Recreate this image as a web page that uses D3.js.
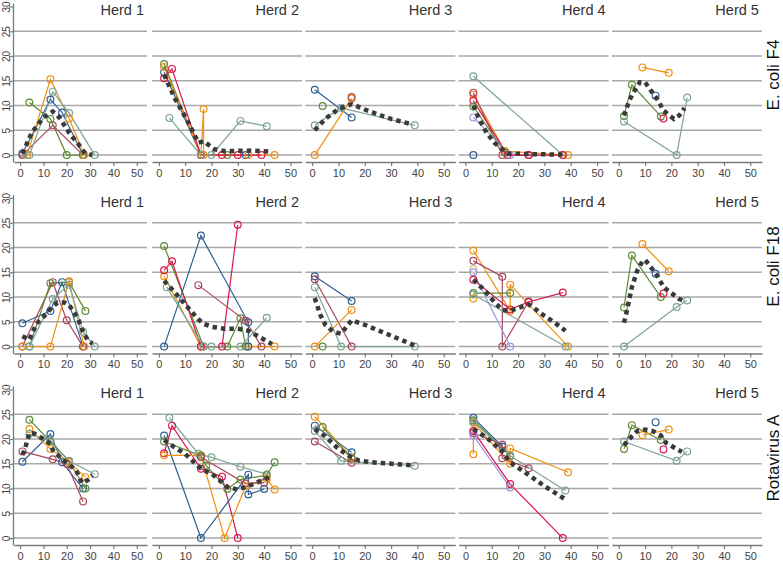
<!DOCTYPE html>
<html>
<head>
<meta charset="utf-8">
<script src="https://d3js.org/d3.v7.min.js"></script>
<style>
  body { margin: 0; padding: 0; background: #fff; }
  svg { display: block; font-family: "Liberation Sans", Arial, sans-serif; }
</style>
</head>
<body>
<script>
// panel labels and ticks
var herds = ["Herd 1", "Herd 2", "Herd 3", "Herd 4", "Herd 5"],
  pathogens = ["E. coli F4", "E. coli F18", "Rotavirus A"],
  xTicks = [0, 10, 20, 30, 40, 50],
  yTicks = [0, 5, 10, 15, 20, 25, 30],
  gridTicks = [0, 5, 10, 15, 20, 25];

// animal index -> colour slot (0 navy, 1 maroon, 2 green, 3 orange, 4 teal, 5 cranberry, 6 lavender, 7 khaki)
// each entry: [herd, animal, [[day, value], ...]]
var f4Animals = [
  [1, 0, [[1, 0.3], [13, 11.2], [18, 8.6], [27, 0]]],
  [1, 1, [[1, 0], [14, 6], [27, 0]]],
  [1, 2, [[4, 10.6], [13, 7.3], [20, 0], [27, 0]]],
  [1, 3, [[3, 0], [13, 15.3], [21, 7.4], [27.5, 0]]],
  [1, 4, [[4, 0], [14, 12.8], [21, 8.5], [32, 0]]],
  [2, 0, [[2, 16.7], [16, 0], [33, 0]]],
  [2, 2, [[2, 18.4], [16, 0], [26, 0]]],
  [2, 3, [[2, 17.8], [16, 0], [17, 9.3], [17, 0], [34, 0], [44, 0]]],
  [2, 5, [[2, 15.5], [5, 17.4], [16, 0], [24, 0], [30, 0], [39, 0]]],
  [2, 4, [[4, 7.5], [16, 0], [20, 0], [31, 6.9], [41, 5.8]]],
  [3, 0, [[1, 13.2], [15, 7.6]]],
  [3, 2, [[4, 9.9]]],
  [3, 4, [[1, 6], [11, 9.5], [39, 6]]],
  [3, 3, [[1, 0], [15, 11.4]]],
  [3, 1, [[15, 11.7]]],
  [4, 4, [[3, 15.9], [37, 0]]],
  [4, 0, [[3, 0]]],
  [4, 3, [[3, 12.2], [15, 0.8], [39, 0]]],
  [4, 1, [[3, 12.6], [14, 0], [24, 0]]],
  [4, 5, [[3, 11], [16, 0], [24, 0], [37, 0]]],
  [4, 2, [[3, 9.8], [15, 0.5]]],
  [4, 6, [[3, 7.6], [17, 0]]],
  [5, 3, [[9, 17.7], [19, 16.6]]],
  [5, 2, [[2, 7.9], [5, 14.2], [16, 7.8]]],
  [5, 4, [[2, 6.8], [22, 0], [26, 11.6]]],
  [5, 0, [[14, 12]]],
  [5, 5, [[17, 7.4]]]
];
var f4Trend = [
  [[1, 0.3], [5, 4.5], [10, 7.6], [14, 8.8], [17, 7.5], [21, 4.5], [25, 2.2], [28, 0.3], [31, 0]],
  [[2, 16.2], [6, 11.5], [11, 6.8], [15, 2.5], [17, 2.8], [19, 2], [21, 1.2], [25, 0.8], [35, 0.9], [42, 0.7]],
  [[1, 5], [5, 7.3], [10, 9.3], [15, 10.3], [20, 9.2], [25, 8.2], [30, 7.3], [38, 6.2]],
  [[3, 10], [5, 7.5], [8, 4.5], [11, 2.5], [14, 1.2], [16, 0.3], [24, 0.2], [37, 0.1]],
  [[2, 8], [4, 11], [6, 13], [8, 14.7], [10, 14.7], [12, 13.2], [15, 11], [17, 9], [21, 7.3], [23, 8], [25, 9.5]]
];

var f18Animals = [
  [1, 0, [[1, 4.7], [13, 7.2], [18, 13], [27, 0]]],
  [1, 1, [[1, 0], [14, 13], [20, 5.3], [27, 0]]],
  [1, 2, [[4, 0], [13, 12.8], [21, 13], [28, 7.2]]],
  [1, 3, [[1, 0], [13, 0], [21, 13.2], [27.5, 0]]],
  [1, 4, [[4, 0], [14, 9.6], [21, 12.5], [27, 3], [32, 0]]],
  [2, 2, [[2, 20.3], [17, 0], [26, 0], [31, 5.7], [33, 0]]],
  [2, 3, [[2, 14.2], [16, 0], [34, 0], [44, 0]]],
  [2, 5, [[2, 15.4], [5, 17.2], [16, 0], [24, 0], [30, 24.6]]],
  [2, 0, [[2, 0], [16, 22.4], [34, 4.9], [34, 0]]],
  [2, 1, [[15, 12.4], [33, 5.2], [39, 0]]],
  [2, 4, [[3, 12], [17, 0], [20, 0], [31, 0], [41, 5.8]]],
  [3, 0, [[1, 14.2], [15, 9.2]]],
  [3, 1, [[1, 13.6], [15, 0]]],
  [3, 4, [[1, 12], [11, 0], [39, 0]]],
  [3, 3, [[1, 0], [15, 7.4]]],
  [3, 2, [[4, 0]]],
  [4, 3, [[3, 19.4], [17, 7.2], [17, 12.5], [39, 0]]],
  [4, 1, [[3, 17.3], [14, 14.1], [14, 0], [24, 9.1]]],
  [4, 7, [[3, 15.6]]],
  [4, 6, [[3, 15], [17, 0]]],
  [4, 5, [[3, 13.5], [17, 7.5], [24, 9], [37, 10.9]]],
  [4, 2, [[3, 10.8], [17, 10.8]]],
  [4, 3, [[3, 9.7]]],
  [4, 4, [[3, 10.5], [38, 0]]],
  [5, 3, [[9, 20.7], [19, 15.2]]],
  [5, 2, [[2, 7.9], [5, 18.4], [16, 10]]],
  [5, 4, [[2, 0], [22, 8], [26, 9.3]]],
  [5, 0, [[14, 14.7]]],
  [5, 5, [[17, 10.7]]]
];
var f18Trend = [
  [[1, 2.1], [4, 1.4], [7, 4.6], [10, 6], [13, 7.6], [16, 8.9], [19, 8.9], [21, 8.4], [23.5, 6.7], [25, 5.4], [27, 3], [29, 1.3], [31, 0.6]],
  [[2, 13.3], [6, 11], [10, 8.5], [15, 5.5], [17, 4.6], [20, 4], [25, 3.6], [30, 3.6], [34, 3.2], [38, 2], [43, 0.5]],
  [[1, 9.8], [3, 6.5], [5, 4.4], [8, 3], [11, 2.6], [15, 5.3], [20, 4.4], [25, 3.3], [30, 2.2], [35, 1.1], [39, 0.2]],
  [[3, 13.5], [7, 11.5], [11, 9], [14, 7.4], [17, 7.2], [20, 7.8], [24, 8.5], [27, 7.4], [30, 6.2], [34, 4.8], [38, 3.2]],
  [[2, 4.8], [3, 7], [4, 9.5], [5, 12], [7, 15.3], [9, 17.2], [10, 17.5], [12, 16.2], [15, 14], [17, 12], [20, 10.8], [23, 9.6], [25, 9.2]]
];

var rotaAnimals = [
  [1, 0, [[1, 15.4], [13, 21], [18, 15.3], [27, 10]]],
  [1, 1, [[1, 17.5], [14, 15.9], [20, 15], [27, 7.4]]],
  [1, 2, [[4, 23.9], [13, 19.5], [21, 15.5], [28, 10]]],
  [1, 3, [[4, 22], [13, 18], [21, 15.3], [28, 12.3]]],
  [1, 4, [[4, 21], [13, 19.7], [21, 15.6], [32, 12.9]]],
  [2, 4, [[4, 24.3], [15, 17], [20, 16.3], [31, 14.4], [41, 12.9]]],
  [2, 5, [[2, 17.1], [5, 22.7], [16, 14], [24, 12.4], [30, 0]]],
  [2, 0, [[2, 20.7], [16, 0], [34, 12.8], [34, 8.8], [40, 9.9]]],
  [2, 3, [[2, 16.7], [16, 16.7], [25, 0], [33, 10.5], [41, 12], [44, 9.8]]],
  [2, 2, [[2, 19.5], [16, 16.6], [18, 14.6], [26, 9.9], [31, 11.8], [41, 12.7], [44, 15.3]]],
  [2, 1, [[16, 16.3], [33, 11], [40, 11.2]]],
  [3, 3, [[1, 24.5], [15, 16.3]]],
  [3, 0, [[1, 22.7], [15, 17.3]]],
  [3, 2, [[4, 22.4], [15, 16]]],
  [3, 4, [[1, 21.6], [11, 15.6], [39, 14.6]]],
  [3, 1, [[1, 19.5], [15, 15.2]]],
  [4, 0, [[3, 24.3], [14, 18.5], [17, 16.5]]],
  [4, 2, [[3, 23.8], [17, 16.6]]],
  [4, 3, [[3, 16.9], [3, 23.3], [17, 15], [17, 18.1], [39, 13.3]]],
  [4, 4, [[3, 23.5], [17, 16.6], [38, 9.6]]],
  [4, 1, [[3, 21.2], [14, 18.9], [14, 16.1], [24, 14.1]]],
  [4, 5, [[3, 21.6], [17, 10.9], [37, 0]]],
  [4, 6, [[3, 20.7], [17, 10.2]]],
  [5, 2, [[2, 18], [5, 22.8], [16, 19.8]]],
  [5, 4, [[2, 19.5], [22, 15.6], [26, 17.5]]],
  [5, 3, [[9, 20.8], [19, 21.9]]],
  [5, 0, [[14, 23.4]]],
  [5, 5, [[17, 17.9]]]
];
var rotaTrend = [
  [[1, 16.8], [2, 17.8], [3, 19.5], [4, 21.2], [6, 21.1], [10, 20], [13, 19], [14, 17.8], [17, 16.4], [20, 15.2], [24, 13.7], [26.5, 11.1], [29, 11.7], [31, 12.7]],
  [[2, 19.8], [6, 18.3], [10, 17], [13, 15.5], [16, 14], [20, 13], [23, 11.7], [26, 10.3], [30, 9.8], [34, 10.5], [38, 11.4], [42, 12.3]],
  [[1, 22], [5, 20.5], [10, 18], [15, 16.3], [18, 15.6], [25, 15.2], [38, 14.7]],
  [[3, 22], [8, 20.3], [14, 17.5], [17, 15.3], [22, 13.5], [30, 10.5], [38, 7.8]],
  [[2, 18.7], [4, 20], [7, 21.6], [10, 21.9], [13, 21.6], [16, 20.7], [18, 19.2], [21, 18.3], [24, 17.4]]
];

var rows = [
  { label: pathogens[0], animals: f4Animals, trend: f4Trend },
  { label: pathogens[1], animals: f18Animals, trend: f18Trend },
  { label: pathogens[2], animals: rotaAnimals, trend: rotaTrend }
];

var width = 783, height = 562;
var color = d3.scaleOrdinal()
  .domain([0, 1, 2, 3, 4, 5, 6, 7])
  .range(["#2e5f92", "#a9495a", "#5f8a36", "#f0900f", "#7ea393", "#d7174b", "#9b96e0", "#d2c580"]);

var svg = d3.select("body").append("svg")
  .attr("width", width)
  .attr("height", height);

// panel geometry
function panelLeft(c) { return c === 0 ? 14 : 152 + (c - 1) * 153.3; }
function panelRight(c) { return c === 0 ? 147 : panelLeft(c) + 150; }
function rowZero(r) { return 155 + r * 191.5; }

rows.forEach(function (row, r) {
  var y0 = rowZero(r);
  var y = d3.scaleLinear().domain([-1.4, 30.7]).range([y0 + 7, y0 - 152]);

  herds.forEach(function (herd, c) {
    var x = d3.scaleLinear().domain([-2.6, 54.4]).range([panelLeft(c), panelRight(c)]);
    var g = svg.append("g");

    // grid
    g.selectAll("line.grid")
      .data(gridTicks)
      .enter().append("line")
      .attr("class", "grid")
      .attr("x1", x.range()[0])
      .attr("x2", x.range()[1])
      .attr("y1", function (d) { return y(d); })
      .attr("y2", function (d) { return y(d); })
      .attr("stroke", "#a9a9a9")
      .attr("stroke-width", 1.6);

    // x axis
    var xa = g.append("g")
      .attr("transform", "translate(0," + y.range()[0] + ")")
      .call(d3.axisBottom(x).tickValues(xTicks).tickSize(4).tickPadding(3).tickSizeOuter(0));
    xa.select(".domain").attr("stroke", "#7a7a7a").attr("stroke-width", 1.3);
    xa.selectAll(".tick line").attr("stroke", "#7a7a7a").attr("stroke-width", 1.2);
    xa.selectAll("text").attr("fill", "#444").attr("font-size", 11)
      .attr("font-family", "Liberation Sans, Arial, sans-serif");

    // y axis on first column only
    if (c === 0) {
      var ya = g.append("g")
        .attr("transform", "translate(" + (x.range()[0] - 1) + ",0)")
        .call(d3.axisLeft(y).tickValues(yTicks).tickSize(4).tickPadding(2).tickSizeOuter(0));
      ya.select(".domain").attr("stroke", "#7a7a7a").attr("stroke-width", 1.3);
      ya.selectAll(".tick line").attr("stroke", "#7a7a7a").attr("stroke-width", 1.2);
      ya.selectAll("text")
        .attr("fill", "#444").attr("font-size", 10)
        .attr("font-family", "Liberation Sans, Arial, sans-serif")
        .attr("text-anchor", "middle")
        .attr("x", 0).attr("dy", 0)
        .attr("transform", "translate(-3.5,0) rotate(-90)");
    }

    // herd title
    g.append("text")
      .attr("x", x.range()[1] - 3)
      .attr("y", y0 - 140)
      .attr("text-anchor", "end")
      .attr("font-size", 14.5)
      .attr("fill", "#333")
      .text(herd);

    var line = d3.line()
      .x(function (d) { return x(d[0]); })
      .y(function (d) { return y(d[1]); });

    var animals = row.animals.filter(function (a) { return a[0] === c + 1; });

    g.selectAll("path.animal")
      .data(animals)
      .enter().append("path")
      .attr("class", "animal")
      .attr("d", function (a) { return line(a[2]); })
      .attr("fill", "none")
      .attr("stroke", function (a) { return color(a[1]); })
      .attr("stroke-width", 1.2);

    animals.forEach(function (a) {
      g.selectAll(null)
        .data(a[2])
        .enter().append("circle")
        .attr("cx", function (d) { return x(d[0]); })
        .attr("cy", function (d) { return y(d[1]); })
        .attr("r", 3.4)
        .attr("fill", "none")
        .attr("stroke", color(a[1]))
        .attr("stroke-width", 1.2);
    });

    // mean trend
    g.append("path")
      .attr("d", line(row.trend[c]))
      .attr("fill", "none")
      .attr("stroke", "#3a3a3a")
      .attr("stroke-width", 4.5)
      .attr("stroke-dasharray", "4.5,4");
  });

  svg.append("text")
    .attr("transform", "translate(778.5," + (y0 - 80) + ") rotate(-90)")
    .attr("text-anchor", "middle")
    .attr("font-size", 17)
    .attr("fill", "#111")
    .text(row.label);
});
</script>
</body>
</html>
